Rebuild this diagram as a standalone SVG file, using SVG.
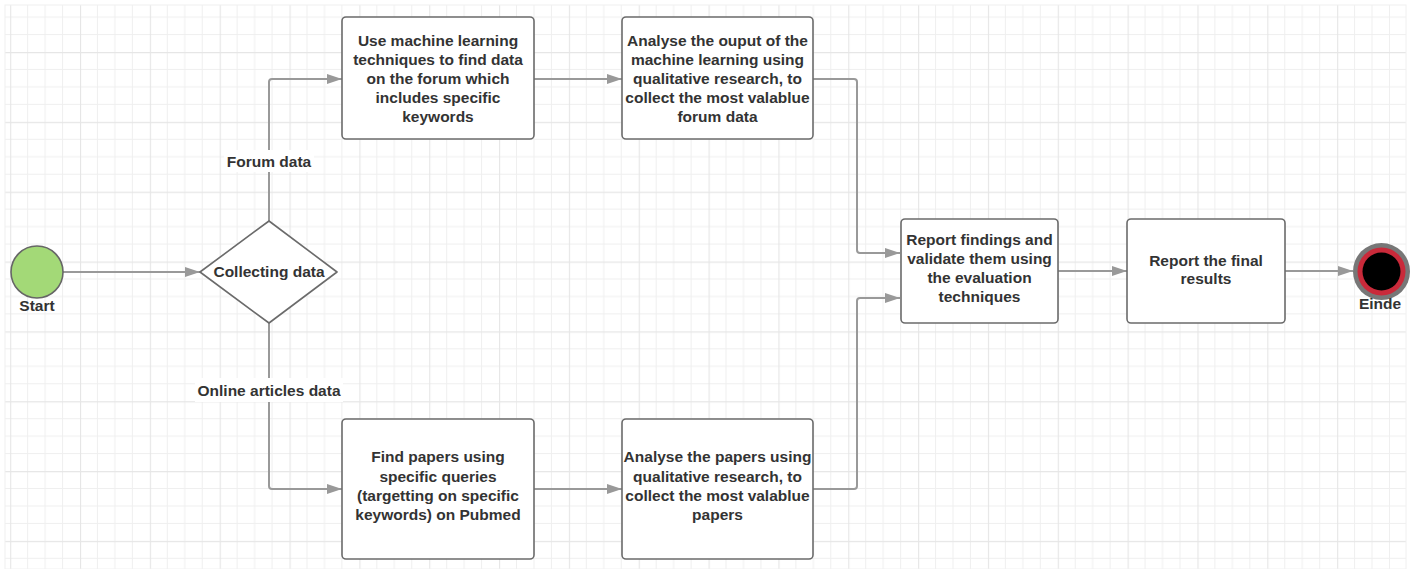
<svg xmlns="http://www.w3.org/2000/svg" width="1415" height="569" viewBox="0 0 1415 569">
<defs>
<pattern id="grid" patternUnits="userSpaceOnUse" x="80" y="52" width="69.84" height="69.84">
<path d="M17.46 0V69.84M34.92 0V69.84M52.38 0V69.84M0 17.46H69.84M0 34.92H69.84M0 52.38H69.84" stroke="#efefef" stroke-width="1" fill="none"/>
<path d="M0.5 0V69.84M0 0.5H69.84" stroke="#e6e6e6" stroke-width="1.3" fill="none"/>
</pattern>
<marker id="arr" markerWidth="16" markerHeight="12" refX="15" refY="6" orient="auto" markerUnits="userSpaceOnUse">
<path d="M0 1 L15 6 L0 11 Z" fill="#999"/>
</marker>
<style>
.box{fill:#fff;stroke:#6b6b6b;stroke-width:1.6}
.t{font-family:"Liberation Sans",Arial,sans-serif;font-weight:bold;font-size:15.5px;fill:#333;text-anchor:middle}
.c{fill:none;stroke:#999;stroke-width:2;marker-end:url(#arr)}
.lbl{fill:#fff}
</style>
</defs>
<rect x="0" y="0" width="1415" height="569" fill="#fff"/>
<rect x="5" y="5" width="1401" height="564" fill="url(#grid)" stroke="#f0f0f0" stroke-width="1"/>

<g id="connectors">
<path class="c" d="M63 272H200"/>
<path class="c" d="M269 221V82Q269 79 272 79H342"/>
<path class="c" d="M269 323V486Q269 489 272 489H342"/>
<path class="c" d="M534 79H622"/>
<path class="c" d="M534 489H622"/>
<path class="c" d="M813 79H854Q857 79 857 82V250Q857 253 860 253H900"/>
<path class="c" d="M813 489H854Q857 489 857 486V301Q857 298 860 298H900"/>
<path class="c" d="M1058 271H1127"/>
<path class="c" d="M1285 271H1353"/>
<rect class="lbl" x="224" y="150" width="90" height="22"/>
<text class="t" x="269" y="167">Forum data</text>
<rect class="lbl" x="195" y="378" width="148" height="24"/>
<text class="t" x="269" y="396">Online articles data</text>
</g>

<g id="start">
<circle cx="37" cy="272" r="26" fill="#a3d977" stroke="#666" stroke-width="1.6"/>
<text class="t" x="37" y="311">Start</text>
</g>

<g id="decision">
<path d="M269 221L337 272L269 323L200 272Z" fill="#fff" stroke="#6b6b6b" stroke-width="1.6" stroke-linejoin="round"/>
<text class="t" x="269" y="277">Collecting data</text>
</g>

<g id="ml">
<rect class="box" x="342" y="17" width="192" height="122" rx="4"/>
<text class="t" x="438" y="46">Use machine learning</text>
<text class="t" x="438" y="65">techniques to find data</text>
<text class="t" x="438" y="84">on the forum which</text>
<text class="t" x="438" y="102.5">includes specific</text>
<text class="t" x="438" y="121.5">keywords</text>
</g>

<g id="analyse-forum">
<rect class="box" x="622" y="17" width="191" height="122" rx="4"/>
<text class="t" x="717.5" y="46">Analyse the ouput of the</text>
<text class="t" x="717.5" y="65">machine learning using</text>
<text class="t" x="717.5" y="84">qualitative research, to</text>
<text class="t" x="717.5" y="102.5">collect the most valablue</text>
<text class="t" x="717.5" y="121.5">forum data</text>
</g>

<g id="find-papers">
<rect class="box" x="342" y="419" width="192" height="140" rx="4"/>
<text class="t" x="438" y="462">Find papers using</text>
<text class="t" x="438" y="481.5">specific queries</text>
<text class="t" x="438" y="500.5">(targetting on specific</text>
<text class="t" x="438" y="519.5">keywords) on Pubmed</text>
</g>

<g id="analyse-papers">
<rect class="box" x="622" y="419" width="191" height="140" rx="4"/>
<text class="t" x="717.5" y="462">Analyse the papers using</text>
<text class="t" x="717.5" y="481.5">qualitative research, to</text>
<text class="t" x="717.5" y="500.5">collect the most valablue</text>
<text class="t" x="717.5" y="519.5">papers</text>
</g>

<g id="report-findings">
<rect class="box" x="901" y="219" width="157" height="104" rx="4"/>
<text class="t" x="979.5" y="245">Report findings and</text>
<text class="t" x="979.5" y="264">validate them using</text>
<text class="t" x="979.5" y="283">the evaluation</text>
<text class="t" x="979.5" y="301.5">techniques</text>
</g>

<g id="report-final">
<rect class="box" x="1127" y="219" width="158" height="104" rx="4"/>
<text class="t" x="1206" y="265.5">Report the final</text>
<text class="t" x="1206" y="284">results</text>
</g>

<g id="end">
<circle cx="1381.5" cy="271.5" r="28.5" fill="#777"/>
<circle cx="1381.5" cy="271.5" r="24" fill="#c92a3a"/>
<circle cx="1381.5" cy="271.5" r="19" fill="#000"/>
<text class="t" x="1380" y="309">Einde</text>
</g>
</svg>
